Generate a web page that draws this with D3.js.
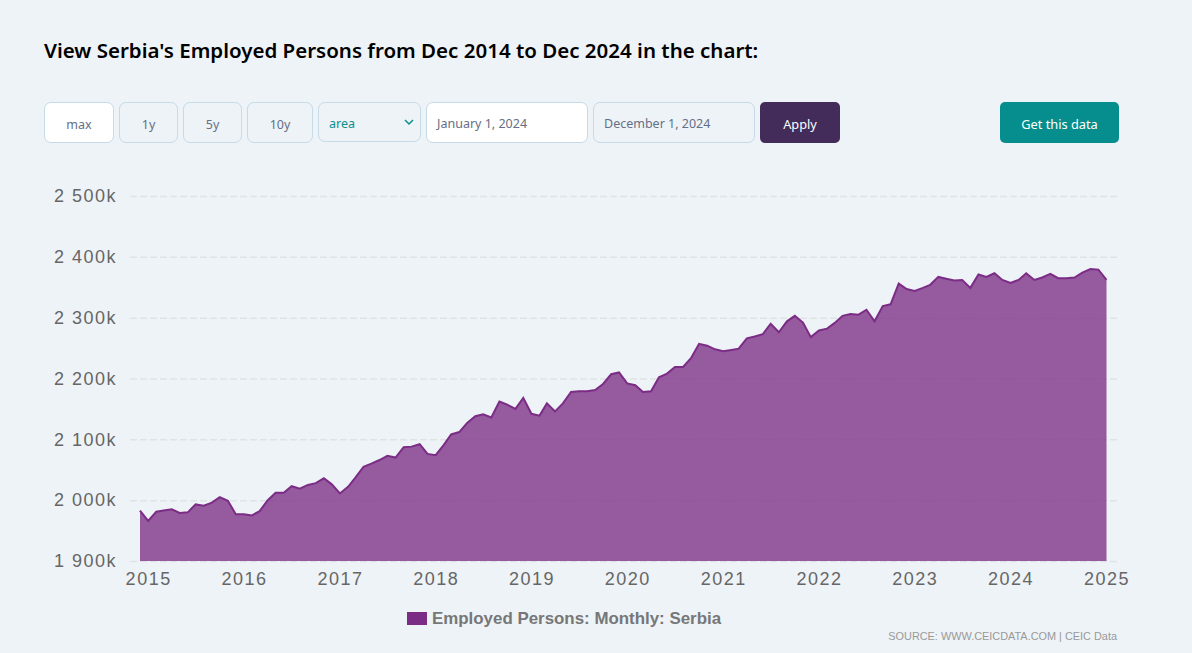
<!DOCTYPE html>
<html>
<head>
<meta charset="utf-8">
<script src="https://cdn.jsdelivr.net/npm/d3@7"></script>
<style>
    html, body { margin: 0; padding: 0; background: #eef3f7; }
    body { width: 1192px; height: 653px; position: relative; overflow: hidden; font-family: "Noto Sans", sans-serif; }
    h2 { position: absolute; left: 44px; top: 36px; margin: 0; font-size: 20.5px; line-height: 28px; font-weight: 600; color: #000; }
    .ctl { position: absolute; box-sizing: border-box; top: 102px; height: 41px; border: 1px solid #c6dae7; border-radius: 7px;
           font-size: 12.5px; line-height: 43px; color: #666f86; text-align: center; }
    .ctl.white { background: #fff; }
    .ctl.left { text-align: left; padding-left: 10px; line-height: 41px; }
    .ctl.solid { border: none; color: #fff; border-radius: 5px; font-size: 12.8px; line-height: 45px; }
    svg#chart { position: absolute; left: 0; top: 0; }
</style>
</head>
<body>
<h2>View Serbia's Employed Persons from Dec 2014 to Dec 2024 in the chart:</h2>
<div id="controls"></div>
<svg id="chart" width="1192" height="653"></svg>
<script>
const employedPersons = [
    1983, 1966, 1981, 1983, 1985, 1979, 1980, 1993, 1991, 1996, 2005, 1999,
    1977, 1977, 1975, 1982, 2000, 2012, 2012, 2023, 2019, 2025, 2028, 2036,
    2026, 2011, 2022, 2037, 2055, 2060, 2066, 2073, 2070, 2087, 2088, 2092,
    2076, 2074, 2091, 2108, 2112, 2127, 2138, 2141, 2136, 2162, 2157, 2150,
    2168, 2142, 2139, 2159, 2146, 2159, 2178, 2179, 2179, 2181, 2191, 2207,
    2210, 2192, 2189, 2178, 2179, 2202, 2208, 2219, 2219, 2234, 2257, 2254,
    2248, 2245, 2247, 2249, 2266, 2269, 2273, 2290, 2276, 2294, 2303, 2292,
    2268, 2279, 2282, 2291, 2303, 2306, 2305, 2313, 2294, 2319, 2322, 2356,
    2347, 2344, 2349, 2354, 2367, 2364, 2361, 2362, 2349, 2371, 2367, 2373,
    2362, 2357, 2362, 2373, 2362, 2366, 2372, 2365, 2365, 2366, 2374, 2380,
    2379, 2362
]
const months = d3.timeMonth.range(new Date(2014, 11, 1), new Date(2025, 1, 1))
const yTicks = [1900, 2000, 2100, 2200, 2300, 2400, 2500]
const xTicks = d3.timeYear.range(new Date(2015, 0, 1), new Date(2025, 1, 1))
const seriesName = 'Employed Persons: Monthly: Serbia'
const sourceText = 'SOURCE: WWW.CEICDATA.COM | CEIC Data'

const controls = [
    { text: 'max', x: 44, w: 70, cls: 'white' },
    { text: '1y', x: 119, w: 59 },
    { text: '5y', x: 183, w: 59 },
    { text: '10y', x: 247, w: 66 },
    { text: 'January 1, 2024', x: 426, w: 162, cls: 'white left' },
    { text: 'December 1, 2024', x: 593, w: 162, cls: 'left' },
    { text: 'Apply', x: 760, w: 80, cls: 'solid', bg: '#432c5a' },
    { text: 'Get this data', x: 1000, w: 119, cls: 'solid', bg: '#068e8e' },
]

d3.select('#controls').selectAll('div')
    .data(controls)
    .join('div')
    .attr('class', d => 'ctl ' + (d.cls || ''))
    .style('left', d => d.x + 'px')
    .style('width', d => d.w + 'px')
    .style('background', d => d.bg || null)
    .text(d => d.text)

// chart type select
const select = d3.select('#controls').append('div')
    .attr('class', 'ctl left')
    .style('left', '318px')
    .style('width', '103px')
    .style('height', '40px')
    .style('color', '#0a8f8f')
    .text('area')
select.append('svg')
    .attr('width', 10)
    .attr('height', 7)
    .style('position', 'absolute')
    .style('left', '85px')
    .style('top', '16px')
    .append('path')
    .attr('d', 'M1 1L5 5L9 1')
    .attr('fill', 'none')
    .attr('stroke', '#0a8f8f')
    .attr('stroke-width', 1.5)

const svg = d3.select('#chart')

const x = d3.scaleTime()
    .domain([months[0], months[months.length - 1]])
    .range([140, 1106.5])

const y = d3.scaleLinear()
    .domain([1900, 2500])
    .range([561, 196])

const labelFont = '"Liberation Sans", sans-serif'

const formatY = d => {
    const s = String(d)
    return s[0] + ' ' + s.slice(1) + 'k'
}

const yAxis = svg.append('g')
    .attr('transform', 'translate(130, 0)')
    .call(d3.axisLeft(y).tickValues(yTicks).tickSize(-987).tickPadding(13).tickFormat(formatY))
yAxis.select('.domain').remove()
yAxis.selectAll('line')
    .attr('stroke', '#dfe3e6')
    .attr('stroke-width', 1.5)
    .attr('stroke-dasharray', '7 3')
yAxis.selectAll('text')
    .attr('fill', '#666')
    .style('font', '18px ' + labelFont)
    .style('letter-spacing', '1.5px')

const xAxis = svg.append('g')
    .attr('transform', 'translate(0, 561)')
    .call(d3.axisBottom(x).tickValues(xTicks).tickSize(0).tickPadding(11).tickFormat(d3.timeFormat('%Y')))
xAxis.select('.domain').remove()
xAxis.selectAll('text')
    .attr('fill', '#666')
    .style('font', '18px ' + labelFont)
    .style('letter-spacing', '1.5px')

const area = d3.area()
    .x((d, i) => x(months[i]))
    .y0(y(1900))
    .y1(d => y(d))

const line = d3.line()
    .x((d, i) => x(months[i]))
    .y(d => y(d))

svg.append('path')
    .datum(employedPersons)
    .attr('d', area)
    .attr('fill', '#7b2c85')
    .attr('fill-opacity', 0.77)

svg.append('path')
    .datum(employedPersons)
    .attr('d', line)
    .attr('fill', 'none')
    .attr('stroke', '#7b2d86')
    .attr('stroke-width', 2)

// legend
svg.append('rect')
    .attr('x', 407)
    .attr('y', 612)
    .attr('width', 20)
    .attr('height', 13)
    .attr('fill', '#7b2d86')
svg.append('text')
    .attr('x', 432)
    .attr('y', 624)
    .attr('fill', '#777')
    .style('font', 'bold 16.9px ' + labelFont)
    .text(seriesName)

svg.append('text')
    .attr('x', 1117)
    .attr('y', 640)
    .attr('text-anchor', 'end')
    .attr('fill', '#999')
    .style('font', '10.9px ' + labelFont)
    .text(sourceText)
</script>
</body>
</html>
